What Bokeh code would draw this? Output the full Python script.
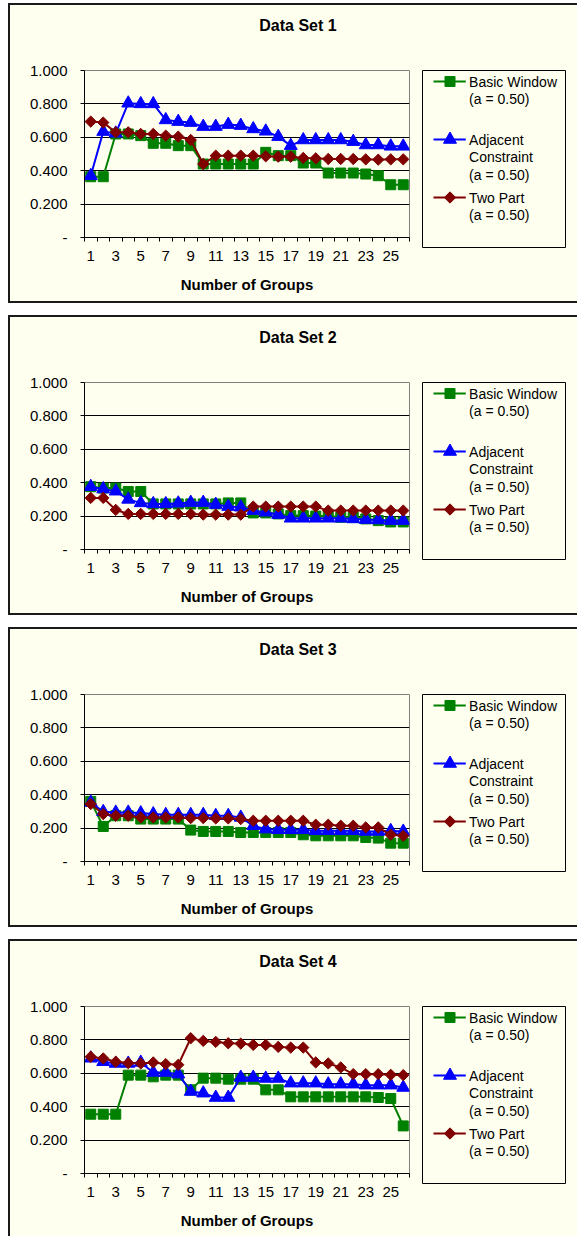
import math
from bokeh.plotting import figure
from bokeh.models import Range1d, FixedTicker
from bokeh.layouts import row, column
from bokeh.embed import file_html
from bokeh.resources import INLINE
from bokeh.core.properties import value

# ---------------- data ----------------
groups = list(range(1, 27))
x_tick_labels = ["1", "3", "5", "7", "9", "11", "13", "15", "17", "19", "21", "23", "25"]
y_tick_values = [0, 0.2, 0.4, 0.6, 0.8, 1.0]
y_tick_labels = ["-", "0.200", "0.400", "0.600", "0.800", "1.000"]
x_axis_title = "Number of Groups"
panel_titles = ["Data Set 1", "Data Set 2", "Data Set 3", "Data Set 4"]
legend_lines = [["Basic Window", "(a = 0.50)"],
                ["Adjacent", "Constraint", "(a = 0.50)"],
                ["Two Part", "(a = 0.50)"]]

ds1_basic = [0.364, 0.364, 0.620, 0.620, 0.610, 0.564, 0.564, 0.550, 0.550, 0.440, 0.440, 0.440, 0.440,
             0.440, 0.510, 0.490, 0.490, 0.446, 0.446, 0.386, 0.386, 0.386, 0.380, 0.370, 0.316, 0.316]
ds1_adjacent = [0.370, 0.634, 0.624, 0.804, 0.800, 0.800, 0.704, 0.694, 0.688, 0.664, 0.664, 0.676, 0.670,
                0.650, 0.636, 0.604, 0.550, 0.584, 0.584, 0.584, 0.584, 0.574, 0.554, 0.554, 0.546, 0.546]
ds1_twopart = [0.694, 0.688, 0.630, 0.630, 0.620, 0.620, 0.610, 0.604, 0.584, 0.440, 0.490, 0.490, 0.490,
               0.490, 0.486, 0.484, 0.484, 0.476, 0.474, 0.470, 0.470, 0.470, 0.468, 0.466, 0.468, 0.468]

ds2_basic = [0.376, 0.368, 0.368, 0.347, 0.347, 0.273, 0.273, 0.273, 0.273, 0.273, 0.273, 0.279, 0.279,
             0.219, 0.219, 0.213, 0.203, 0.203, 0.200, 0.200, 0.193, 0.193, 0.183, 0.173, 0.165, 0.165]
ds2_adjacent = [0.376, 0.362, 0.349, 0.300, 0.279, 0.273, 0.273, 0.277, 0.281, 0.281, 0.269, 0.257, 0.253,
                0.233, 0.223, 0.209, 0.187, 0.187, 0.187, 0.187, 0.187, 0.183, 0.179, 0.177, 0.173, 0.173]
ds2_twopart = [0.309, 0.309, 0.237, 0.213, 0.213, 0.213, 0.213, 0.213, 0.213, 0.209, 0.209, 0.209, 0.209,
               0.257, 0.257, 0.257, 0.257, 0.257, 0.257, 0.233, 0.233, 0.233, 0.233, 0.233, 0.233, 0.233]

ds3_basic = [0.360, 0.210, 0.274, 0.274, 0.254, 0.254, 0.254, 0.254, 0.188, 0.180, 0.180, 0.180, 0.174,
             0.174, 0.174, 0.174, 0.174, 0.160, 0.154, 0.154, 0.154, 0.154, 0.144, 0.140, 0.110, 0.110]
ds3_adjacent = [0.354, 0.298, 0.294, 0.294, 0.290, 0.284, 0.280, 0.280, 0.280, 0.280, 0.274, 0.274, 0.264,
                0.214, 0.194, 0.190, 0.190, 0.190, 0.184, 0.184, 0.184, 0.184, 0.180, 0.180, 0.184, 0.180]
ds3_twopart = [0.344, 0.284, 0.274, 0.274, 0.264, 0.264, 0.264, 0.264, 0.260, 0.260, 0.258, 0.258, 0.254,
               0.244, 0.244, 0.244, 0.244, 0.244, 0.220, 0.220, 0.214, 0.214, 0.204, 0.204, 0.160, 0.154]

ds4_basic = [0.355, 0.355, 0.355, 0.589, 0.589, 0.579, 0.589, 0.589, 0.501, 0.571, 0.571, 0.565, 0.565,
             0.565, 0.501, 0.501, 0.459, 0.459, 0.459, 0.459, 0.459, 0.459, 0.459, 0.455, 0.449, 0.285]
ds4_adjacent = [0.690, 0.669, 0.659, 0.659, 0.665, 0.605, 0.605, 0.595, 0.491, 0.481, 0.455, 0.455, 0.575,
                0.575, 0.569, 0.569, 0.541, 0.541, 0.541, 0.535, 0.535, 0.535, 0.529, 0.529, 0.529, 0.515]
ds4_twopart = [0.699, 0.689, 0.669, 0.661, 0.659, 0.665, 0.655, 0.651, 0.810, 0.794, 0.788, 0.780, 0.778,
               0.770, 0.770, 0.758, 0.754, 0.754, 0.665, 0.659, 0.635, 0.595, 0.595, 0.595, 0.591, 0.589]

datasets = [(ds1_basic, ds1_adjacent, ds1_twopart),
            (ds2_basic, ds2_adjacent, ds2_twopart),
            (ds3_basic, ds3_adjacent, ds3_twopart),
            (ds4_basic, ds4_adjacent, ds4_twopart)]

# ---------------- style ----------------
BG = "#FFFFF0"
FONT = "Liberation Sans"
COLORS = ["#008000", "#0000FF", "#800000"]
MARKERS = [("square", 10, 0.0), ("triangle", 13, 0.0), ("square", 8, math.pi / 4)]
panel_heights = [300, 300, 300, 297]
border_widths = ["2px 0px 2px 2px", "2px 0px 2px 2px", "2px 0px 2px 2px", "2px 0px 0px 2px"]
FRAME_W, FRAME_H = 325, 167
LEG_W, LEG_H = 143, 177
CHART_W = 74 + FRAME_W + 12
LEGFIG_W = 1 + LEG_W + 12
TITLE_H = 40


def make_title(title):
    w = CHART_W + LEGFIG_W
    t = figure(frame_width=w, frame_height=TITLE_H,
               x_range=Range1d(0, w), y_range=Range1d(TITLE_H, 0),
               x_axis_type=None, y_axis_type=None,
               output_backend="svg", toolbar_location=None,
               min_border_left=0, min_border_right=0, min_border_top=0, min_border_bottom=0,
               background_fill_color=BG, border_fill_color=BG, outline_line_color=None)
    t.text(x=[w / 2 + 4], y=[20], text=[title], text_align="center", text_baseline="alphabetic",
           text_font=value(FONT), text_font_size="16px", text_font_style="bold", text_color="black")
    return t


def make_chart(series, fig_h):
    top = 65 - TITLE_H
    p = figure(frame_width=FRAME_W, frame_height=FRAME_H,
               x_range=Range1d(0.5, 26.5), y_range=Range1d(0, 1),
               output_backend="svg", toolbar_location=None,
               min_border_left=74, min_border_right=12, min_border_top=top,
               min_border_bottom=fig_h - top - FRAME_H,
               background_fill_color=BG, border_fill_color=BG,
               outline_line_color="#808080", outline_line_width=1)

    # y axis
    p.yaxis.ticker = FixedTicker(ticks=y_tick_values)
    p.yaxis.major_label_overrides = dict(zip(y_tick_values, y_tick_labels))
    p.yaxis.major_tick_out = 4
    p.yaxis.major_tick_in = 0
    p.yaxis.minor_tick_line_color = None
    p.yaxis.major_label_standoff = 13
    p.yaxis.major_label_text_font = FONT
    p.yaxis.major_label_text_font_size = "15px"
    p.yaxis.major_label_text_color = "black"
    p.yaxis.axis_line_color = "black"
    p.yaxis.major_tick_line_color = "black"

    # x axis: labels on categories, tick marks between categories
    label_pos = groups[::2]
    bounds = [g - 0.5 for g in groups] + [groups[-1] + 0.5]
    p.xaxis.ticker = FixedTicker(ticks=label_pos, minor_ticks=bounds)
    p.xaxis.major_label_overrides = dict(zip(label_pos, x_tick_labels))
    p.xaxis.major_tick_out = 0
    p.xaxis.major_tick_in = 0
    p.xaxis.minor_tick_out = 4
    p.xaxis.minor_tick_in = 0
    p.xaxis.minor_tick_line_color = "black"
    p.xaxis.major_label_standoff = 9
    p.xaxis.major_label_text_font = FONT
    p.xaxis.major_label_text_font_size = "15px"
    p.xaxis.major_label_text_color = "black"
    p.xaxis.axis_line_color = "black"
    p.xaxis.axis_label = x_axis_title
    p.xaxis.axis_label_standoff = 12
    p.xaxis.axis_label_text_font = FONT
    p.xaxis.axis_label_text_font_size = "15px"
    p.xaxis.axis_label_text_font_style = "bold"
    p.xaxis.axis_label_text_color = "black"

    p.xgrid.visible = False
    p.ygrid.ticker = FixedTicker(ticks=y_tick_values[1:-1])
    p.ygrid.grid_line_color = "black"
    p.ygrid.grid_line_width = 1

    for vals, col, (mk, sz, ang) in zip(series, COLORS, MARKERS):
        p.line(groups, vals, line_color=col, line_width=2)
        p.scatter(groups, vals, marker=mk, size=sz, angle=ang,
                  fill_color=col, line_color=col)
    return p


def make_legend(fig_h):
    top = 63 - TITLE_H
    lg = figure(frame_width=LEG_W, frame_height=LEG_H,
                x_range=Range1d(0, LEG_W), y_range=Range1d(LEG_H, 0),
                x_axis_type=None, y_axis_type=None,
                output_backend="svg", toolbar_location=None,
                min_border_left=1, min_border_right=12, min_border_top=top,
                min_border_bottom=fig_h - top - LEG_H,
                background_fill_color=BG, border_fill_color=BG,
                outline_line_color="black", outline_line_width=1)
    entry_tops = [11, 69, 127]
    pitch = 17.8
    for lines, etop, col, (mk, sz, ang) in zip(legend_lines, entry_tops, COLORS, MARKERS):
        lg.line([11, 43.3], [etop, etop], line_color=col, line_width=2)
        lg.scatter([27.5], [etop], marker=mk, size=sz, angle=ang, fill_color=col, line_color=col)
        ys = [etop + i * pitch for i in range(len(lines))]
        lg.text(x=[46.6] * len(lines), y=ys, text=lines, text_baseline="middle", text_align="left",
                text_font=value(FONT), text_font_size="14px", text_color="black")
    return lg


panels = []
for title, series, h, bw in zip(panel_titles, datasets, panel_heights, border_widths):
    top_w, _, bot_w, _ = [int(v[:-2]) for v in bw.split()]
    fh = h - top_w - bot_w - TITLE_H
    panels.append(column(make_title(title),
                         row(make_chart(series, fh), make_legend(fh)),
                         styles={"border-style": "solid", "border-color": "#1a1a1a",
                                 "border-width": bw, "background-color": BG}))

layout = column(*panels, spacing=12, styles={"margin-top": "3px", "margin-left": "8px"})

open("out.html", "w").write(file_html(layout, INLINE))
